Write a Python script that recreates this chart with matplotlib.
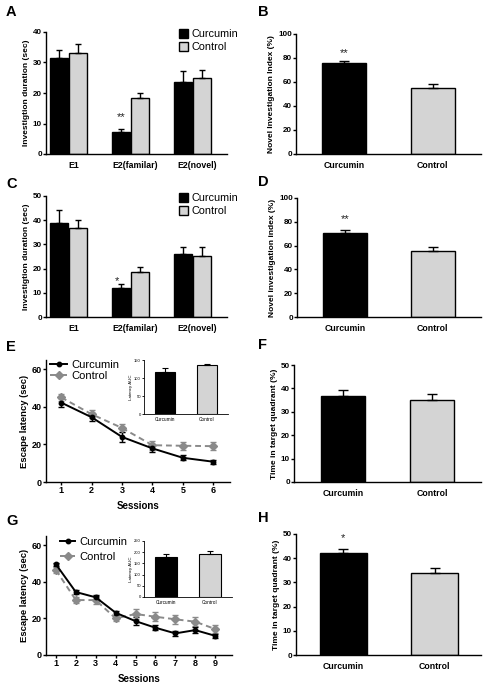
import numpy as np
import matplotlib.pyplot as plt
from matplotlib.lines import Line2D
from matplotlib.patches import Patch

plt.rcParams['font.family'] = ['Liberation Sans', 'DejaVu Sans']

# ---- data ----
groups = ['E1', 'E2(familar)', 'E2(novel)']
two = ['Curcumin', 'Control']

a_cur = [31.5, 7.3, 23.7]
a_cur_err = [2.5, 0.9, 3.4]
a_con = [33.2, 18.3, 25.0]
a_con_err = [3.0, 1.8, 2.5]

b_val = [75.5, 55.0]
b_err = [2.3, 3.5]

c_cur = [38.7, 11.8, 26.0]
c_cur_err = [5.7, 2.0, 3.0]
c_con = [36.7, 18.4, 25.2]
c_con_err = [3.5, 2.3, 3.9]

d_val = [71.0, 55.5]
d_err = [2.5, 3.0]

e_sess = [1, 2, 3, 4, 5, 6]
e_cur = [42.3, 34.5, 24.0, 17.9, 12.9, 10.8]
e_cur_err = [2.5, 2.2, 2.5, 2.0, 1.3, 1.0]
e_con = [45.1, 36.1, 28.8, 19.6, 19.3, 19.1]
e_con_err = [2.0, 2.2, 2.3, 2.5, 2.0, 2.0]
e_auc = [118, 135]
e_auc_err = [10, 5]

f_val = [36.8, 35.0]
f_err = [2.5, 2.8]

g_sess = [1, 2, 3, 4, 5, 6, 7, 8, 9]
g_cur = [49.5, 34.4, 31.5, 23.1, 18.5, 14.9, 11.8, 13.6, 10.5]
g_cur_err = [1.0, 1.0, 1.5, 1.0, 2.0, 1.5, 1.5, 1.5, 1.0]
g_con = [46.4, 30.0, 30.0, 20.0, 22.4, 20.9, 19.5, 18.2, 14.2]
g_con_err = [1.5, 1.5, 2.0, 1.5, 2.5, 2.5, 2.5, 2.5, 2.0]
g_auc = [180, 192]
g_auc_err = [12, 15]

h_val = [42.0, 34.0]
h_err = [2.0, 2.0]

BLACK = '#000000'
GRAY = '#d4d4d4'
LINEGRAY = '#8a8a8a'
W, H = 484.0, 684.0


def box(l, t, r, b):
    return [l / W, 1 - b / H, (r - l) / W, (b - t) / H]


def style(ax, tick=5.8):
    for s in ['top', 'right']:
        ax.spines[s].set_visible(False)
    for s in ['left', 'bottom']:
        ax.spines[s].set_linewidth(1.0)
    ax.tick_params(length=2, width=1, labelsize=tick, pad=1)
    for lab in ax.get_xticklabels() + ax.get_yticklabels():
        lab.set_fontweight('bold')


def grouped(ax, cur, cur_err, con, con_err, ymax, ystep):
    x = np.arange(len(groups))
    w = 0.29
    ax.bar(x - w / 2 - 0.01, cur, w, color=BLACK, edgecolor=BLACK, lw=1,
           yerr=[np.zeros(3), cur_err], capsize=2.5, error_kw=dict(lw=1, capthick=1))
    ax.bar(x + w / 2 + 0.01, con, w, color=GRAY, edgecolor=BLACK, lw=1,
           yerr=[np.zeros(3), con_err], capsize=2.5, error_kw=dict(lw=1, capthick=1))
    ax.set_xlim(-0.36, 2.56)
    ax.set_ylim(0, ymax)
    ax.set_yticks(np.arange(0, ymax + 1, ystep))
    ax.set_xticks(x + 0.08)
    ax.set_xticklabels(groups)
    style(ax)
    ax.tick_params(axis='x', length=0, pad=5, labelsize=6.3)
    ax.set_ylabel('Investigtion duration (sec)', fontsize=6, fontweight='bold', labelpad=2)
    ax.legend(handles=[Patch(facecolor=BLACK, edgecolor=BLACK, label='Curcumin'),
                       Patch(facecolor=GRAY, edgecolor=BLACK, label='Control')],
              loc='upper left', bbox_to_anchor=(0.71, 1.06), frameon=False,
              fontsize=7.8, handlelength=0.85, handleheight=0.95, handletextpad=0.35,
              labelspacing=0.2, borderaxespad=0)


def pair(ax, vals, errs, ymax, ystep, ylabel, width=0.5, xlim=(-0.55, 1.55)):
    x = np.arange(2)
    ax.bar(x, vals, width, color=[BLACK, GRAY], edgecolor=BLACK, lw=1,
           yerr=[np.zeros(2), errs], capsize=3.5, error_kw=dict(lw=1, capthick=1))
    ax.set_xlim(*xlim)
    ax.set_ylim(0, ymax)
    ax.set_yticks(np.arange(0, ymax + 1, ystep))
    ax.set_xticks(x)
    ax.set_xticklabels(two)
    ax.set_ylabel(ylabel, fontsize=6, fontweight='bold', labelpad=2)
    style(ax)
    ax.tick_params(axis='x', length=0, pad=5, labelsize=6.3)


def inset(ax, vals, errs, ymax, ystep):
    x = np.arange(2)
    ax.bar(x, vals, 0.48, color=[BLACK, GRAY], edgecolor=BLACK, lw=0.8,
           yerr=[np.zeros(2), errs], capsize=2.5, error_kw=dict(lw=0.8, capthick=0.8))
    ax.set_xlim(-0.5, 1.5)
    ax.set_ylim(0, ymax)
    ax.set_yticks(np.arange(0, ymax + 1, ystep))
    ax.set_xticks(x)
    ax.set_xticklabels(two)
    ax.patch.set_alpha(0)
    for s in ['top', 'right']:
        ax.spines[s].set_visible(False)
    for s in ['left', 'bottom']:
        ax.spines[s].set_linewidth(0.6)
    ax.tick_params(length=1.2, width=0.6, labelsize=3, pad=1)
    ax.tick_params(axis='x', length=0, labelsize=3.4, pad=2)
    ax.set_ylabel('Latency AUC', fontsize=3.2, labelpad=1)


def lines(ax, sess, cur, cur_err, con, con_err, xlim, leg):
    ax.errorbar(sess, con, yerr=con_err, color=LINEGRAY, ls='--', lw=1.4, marker='D',
                ms=4.5, capsize=2, elinewidth=1, capthick=1, dashes=(3, 2))
    ax.errorbar(sess, cur, yerr=cur_err, color=BLACK, ls='-', lw=1.4, marker='o',
                ms=3.2, capsize=2, elinewidth=1, capthick=1)
    ax.set_xlim(*xlim)
    ax.set_ylim(0, 65)
    ax.set_yticks([0, 20, 40, 60])
    ax.set_xticks(sess)
    ax.set_xlabel('Sessions', fontsize=7, fontweight='bold', labelpad=4)
    ax.set_ylabel('Escape latency (sec)', fontsize=6.8, fontweight='bold', labelpad=2)
    style(ax, 6.5)
    ax.legend(handles=[Line2D([], [], color=BLACK, lw=1.4, marker='o', ms=3.2, label='Curcumin'),
                       Line2D([], [], color=LINEGRAY, lw=1.4, ls='--', marker='D', ms=4.5,
                              label='Control')],
              loc='upper left', bbox_to_anchor=leg['anchor'], frameon=False,
              fontsize=leg['size'], handlelength=leg['hl'], handletextpad=0.4,
              labelspacing=leg['sp'], borderaxespad=0)


fig = plt.figure(figsize=(4.84, 6.84), dpi=100)

axA = fig.add_axes(box(46, 32, 227, 154))
grouped(axA, a_cur, a_cur_err, a_con, a_con_err, 40, 10)
axA.text(1 - 0.15, 11.0, '**', ha='center', fontsize=8, color='#222222')

axB = fig.add_axes(box(296, 34, 481, 154))
pair(axB, b_val, b_err, 100, 20, 'Novel Investigation Index (%)')
axB.text(0, 82, '**', ha='center', fontsize=8, color='#222222')

axC = fig.add_axes(box(46, 196, 227, 317))
grouped(axC, c_cur, c_cur_err, c_con, c_con_err, 50, 10)
axC.text(1 - 0.22, 13.5, '*', ha='center', fontsize=8, color='#222222')

axD = fig.add_axes(box(297, 198, 481, 317))
pair(axD, d_val, d_err, 100, 20, 'Novel investigation index (%)')
axD.text(0, 80, '**', ha='center', fontsize=8, color='#222222')

axE = fig.add_axes(box(46, 360, 230, 482))
lines(axE, e_sess, e_cur, e_cur_err, e_con, e_con_err, (0.5, 6.55),
      dict(anchor=(0.0, 1.04), size=8, hl=1.5, sp=0.15))
axEi = fig.add_axes(box(144, 360, 228, 414))
inset(axEi, e_auc, e_auc_err, 150, 50)

axF = fig.add_axes(box(294, 365, 481, 482))
pair(axF, f_val, f_err, 50, 10, 'Time in target quadrant (%)')

axG = fig.add_axes(box(46, 536, 232, 655))
lines(axG, g_sess, g_cur, g_cur_err, g_con, g_con_err, (0.5, 9.85),
      dict(anchor=(0.05, 1.03), size=8, hl=1.4, sp=0.45))
axGi = fig.add_axes(box(144, 541, 232, 597))
inset(axGi, g_auc, g_auc_err, 250, 50)

axH = fig.add_axes(box(296, 534, 481, 655))
pair(axH, h_val, h_err, 50, 10, 'Time in target quadrant (%)', xlim=(-0.52, 1.51), width=0.52)
axH.text(0, 47, '*', ha='center', fontsize=8, color='#222222')

for letter, (px, py) in zip('ABCDEFGH', [(6, 16), (258, 16), (6, 188), (258, 186),
                                         (6, 351), (258, 349), (6, 525), (258, 522)]):
    fig.text(px / W, 1 - py / H, letter, fontsize=10.5, fontweight='bold', va='baseline')

fig.savefig('out.png', dpi=100)
